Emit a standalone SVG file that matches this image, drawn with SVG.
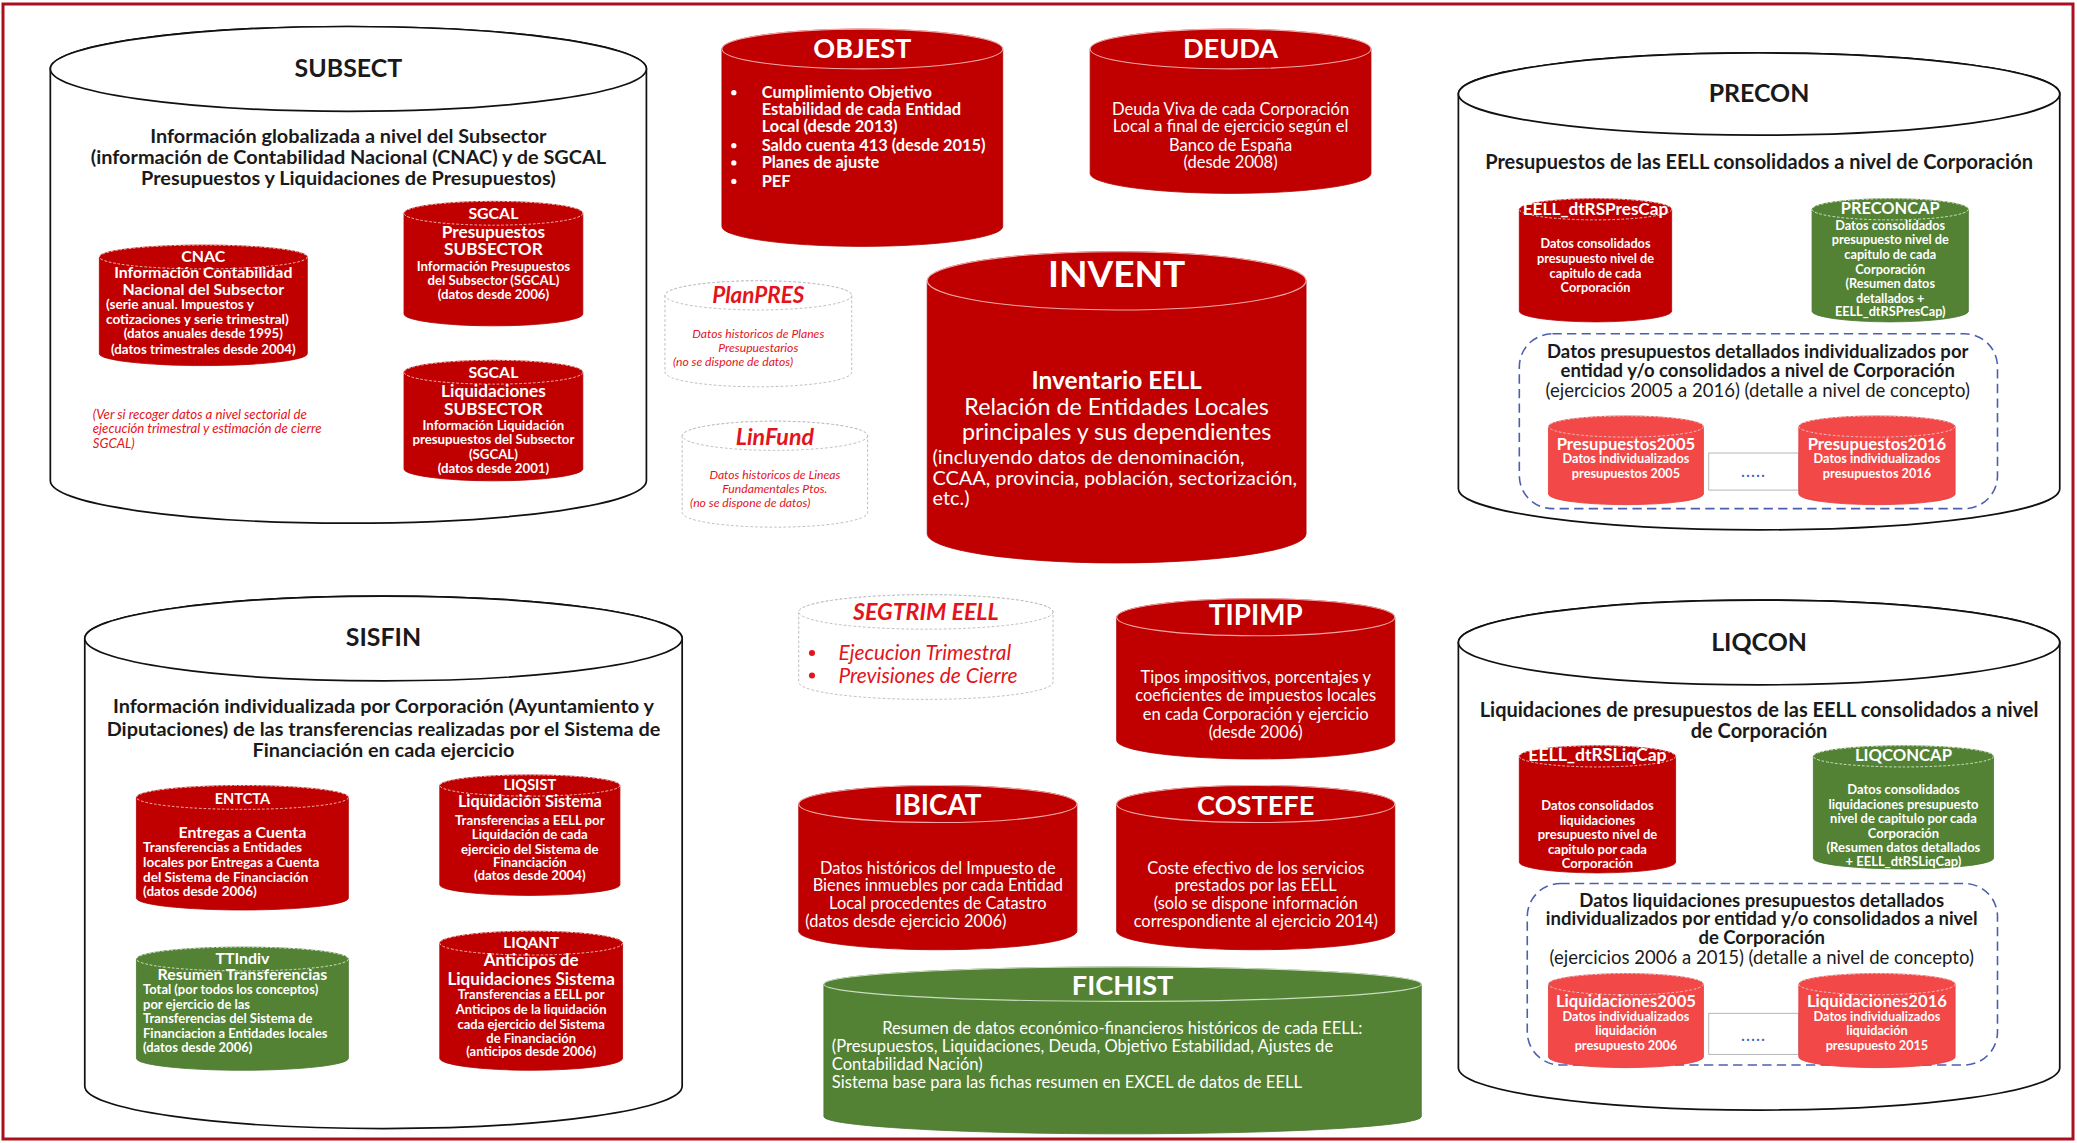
<svg xmlns="http://www.w3.org/2000/svg" width="2077" height="1143" viewBox="0 0 2077 1143">
<style>
text{font-family:Lato,"Open Sans","Liberation Sans",sans-serif}
.c{text-anchor:middle}
.b{font-weight:700}
.i{font-style:italic}
.w{fill:#fff}
.k{fill:#1a1a1a}
.r{fill:#e3141b}
.big{fill:#fff;stroke:#111;stroke-width:1.3}
.red{fill:#c00000;stroke:#b00000;stroke-width:0.6}
.grn{fill:#548235;stroke:#4a7530;stroke-width:0.6}
.lr{fill:#f24848;stroke:#e23a3a;stroke-width:0.6}
.rimS{fill:none;stroke:#f4c4c4;stroke-width:0.7;stroke-dasharray:2 1.4}
.rimG{fill:none;stroke:#d6e8cc;stroke-width:0.7;stroke-dasharray:2 1.4}
.rimB{fill:none;stroke:#f0a8a8;stroke-width:0.8}
.rimBG{fill:none;stroke:#c9ddbf;stroke-width:0.8}
.dsh{fill:#fff;stroke:#b8b8b8;stroke-width:0.7;stroke-dasharray:2 1.6}
.blue{fill:none;stroke:#4c5fae;stroke-width:1.2;stroke-dasharray:7 4}
.dots{fill:#fff;stroke:#b0b0b0;stroke-width:0.7}
.dt{fill:#3a62c8;font-weight:700;letter-spacing:1.2px}
</style>
<rect x="3" y="4" width="2070" height="1135" fill="#fff" stroke="#a8101e" stroke-width="3"/>
<g id="connectors"/>
<g transform="scale(1.3246)">

<!-- SUBSECT -->
<g id="SUBSECT">
<path class="big" d="M38,52 V363 A225,32 0 0 0 488,363 V52 A225,32 0 0 0 38,52 Z"/>
<ellipse class="big" cx="263" cy="52" rx="225" ry="32"/>
<text class="c k b" x="263" y="58" font-size="18.8">SUBSECT</text>
<text class="c k b" x="263" font-size="15"><tspan x="263" y="108">Información globalizada a nivel del Subsector</tspan><tspan x="263" y="123.5">(información de Contabilidad Nacional (CNAC) y de SGCAL</tspan><tspan x="263" y="139.5">Presupuestos y Liquidaciones de Presupuestos)</tspan></text>
<text class="r i" x="70" font-size="10"><tspan x="70" y="316">(Ver si recoger datos a nivel sectorial de</tspan><tspan x="70" y="327">ejecución trimestral y estimación de cierre</tspan><tspan x="70" y="338">SGCAL)</tspan></text>
</g>
<g id="CNAC">
<path class="red" d="M75,194 V267 A78.5,9 0 0 0 232,267 V194 A78.5,9 0 0 0 75,194 Z"/>
<ellipse class="rimS" cx="153.5" cy="194" rx="78.5" ry="9"/>
<text class="c w b" x="153.5" y="198" font-size="12">CNAC</text>
<text class="c w b" x="153.5" font-size="12"><tspan x="153.5" y="210">Información Contabilidad</tspan><tspan x="153.5" y="222.5">Nacional del Subsector</tspan></text>
<text class="w b" font-size="10.3"><tspan x="80" y="233.5">(serie anual. Impuestos y</tspan><tspan x="80" y="244.5">cotizaciones y serie trimestral)</tspan></text>
<text class="c w b" font-size="10"><tspan x="153.5" y="255.5">(datos anuales desde 1995)</tspan><tspan x="153.5" y="267">(datos trimestrales desde 2004)</tspan></text>
</g>
<g id="SGCAL_PRES">
<path class="red" d="M305,161 V237 A67.5,9 0 0 0 440,237 V161 A67.5,9 0 0 0 305,161 Z"/>
<ellipse class="rimS" cx="372.5" cy="161" rx="67.5" ry="9"/>
<text class="c w b" x="372.5" y="165" font-size="12">SGCAL</text>
<text class="c w b" font-size="13"><tspan x="372.5" y="179.5">Presupuestos</tspan><tspan x="372.5" y="192.5">SUBSECTOR</tspan></text>
<text class="c w b" font-size="10"><tspan x="372.5" y="204.5">Información Presupuestos</tspan><tspan x="372.5" y="215.5">del Subsector (SGCAL)</tspan><tspan x="372.5" y="226">(datos desde 2006)</tspan></text>
</g>
<g id="SGCAL_LIQ">
<path class="red" d="M305,281 V354 A67.5,9 0 0 0 440,354 V281 A67.5,9 0 0 0 305,281 Z"/>
<ellipse class="rimS" cx="372.5" cy="281" rx="67.5" ry="9"/>
<text class="c w b" x="372.5" y="285" font-size="12">SGCAL</text>
<text class="c w b" font-size="13"><tspan x="372.5" y="299.5">Liquidaciones</tspan><tspan x="372.5" y="313.5">SUBSECTOR</tspan></text>
<text class="c w b" font-size="10"><tspan x="372.5" y="324.5">Información Liquidación</tspan><tspan x="372.5" y="335.5">presupuestos del Subsector</tspan><tspan x="372.5" y="346.5">(SGCAL)</tspan><tspan x="372.5" y="357">(datos desde 2001)</tspan></text>
</g>

<!-- OBJEST -->
<g id="OBJEST">
<path class="red" d="M545,37 V171 A106,15 0 0 0 757,171 V37 A106,15 0 0 0 545,37 Z"/>
<ellipse class="rimB" cx="651" cy="37" rx="106" ry="15"/>
<text class="c w b" x="651" y="44" font-size="20.5">OBJEST</text>
<g fill="#fff"><circle cx="554" cy="70" r="2"/><circle cx="554" cy="110" r="2"/><circle cx="554" cy="123" r="2"/><circle cx="554" cy="137" r="2"/></g>
<text class="w b" font-size="12.4"><tspan x="575" y="74">Cumplimiento Objetivo</tspan><tspan x="575" y="87">Estabilidad de cada Entidad</tspan><tspan x="575" y="100">Local (desde 2013)</tspan><tspan x="575" y="114">Saldo cuenta 413 (desde 2015)</tspan><tspan x="575" y="127">Planes de ajuste</tspan><tspan x="575" y="141">PEF</tspan></text>
</g>
<g id="DEUDA">
<path class="red" d="M823,37 V131 A106,15 0 0 0 1035,131 V37 A106,15 0 0 0 823,37 Z"/>
<ellipse class="rimB" cx="929" cy="37" rx="106" ry="15"/>
<text class="c w b" x="929" y="44" font-size="20.5">DEUDA</text>
<text class="c w" font-size="12.5"><tspan x="929" y="87">Deuda Viva de cada Corporación</tspan><tspan x="929" y="100">Local a final de ejercicio según el</tspan><tspan x="929" y="114">Banco de España</tspan><tspan x="929" y="127">(desde 2008)</tspan></text>
</g>

<!-- PlanPRES / LinFund -->
<g id="PlanPRES">
<path class="dsh" d="M502,223 V281 A70.5,11 0 0 0 643,281 V223 A70.5,11 0 0 0 502,223 Z"/>
<ellipse class="dsh" cx="572.5" cy="223" rx="70.5" ry="11"/>
<text class="c r b i" x="572.5" y="229" font-size="17">PlanPRES</text>
<text class="r i" font-size="9.2"><tspan class="c" x="572.5" y="255.5">Datos historicos de Planes</tspan><tspan class="c" x="572.5" y="266">Presupuestarios</tspan><tspan x="508" y="276.5">(no se dispone de datos)</tspan></text>
</g>
<g id="LinFund">
<path class="dsh" d="M515,329 V387 A70,11 0 0 0 655,387 V329 A70,11 0 0 0 515,329 Z"/>
<ellipse class="dsh" cx="585" cy="329" rx="70" ry="11"/>
<text class="c r b i" x="585" y="336" font-size="17.5">LinFund</text>
<text class="r i" font-size="9.2"><tspan class="c" x="585" y="361.5">Datos historicos de Lineas</tspan><tspan class="c" x="585" y="372">Fundamentales Ptos.</tspan><tspan x="521" y="382.5">(no se dispone de datos)</tspan></text>
</g>

<!-- INVENT -->
<g id="INVENT">
<path class="red" d="M700,212 V403 A143,22 0 0 0 986,403 V212 A143,22 0 0 0 700,212 Z"/>
<ellipse class="rimB" cx="843" cy="212" rx="143" ry="22"/>
<text class="c w b" x="843" y="217" font-size="28">INVENT</text>
<text class="c w b" x="843" y="294" font-size="18.5">Inventario EELL</text>
<text class="c w" font-size="17.6"><tspan x="843" y="313.5">Relación de Entidades Locales</tspan><tspan x="843" y="332.5">principales y sus dependientes</tspan></text>
<text class="w" font-size="15"><tspan x="704" y="350.5">(incluyendo datos de denominación,</tspan><tspan x="704" y="366">CCAA, provincia, población, sectorización,</tspan><tspan x="704" y="381.5">etc.)</tspan></text>
</g>

<!-- PRECON -->
<g id="PRECON">
<path class="big" d="M1101,71 V369 A227,31 0 0 0 1555,369 V71 A227,31 0 0 0 1101,71 Z"/>
<ellipse class="big" cx="1328" cy="71" rx="227" ry="31"/>
<text class="c k b" x="1328" y="77" font-size="18.8">PRECON</text>
<text class="c k b" x="1328" y="127.5" font-size="15.1">Presupuestos de las EELL consolidados a nivel de Corporación</text>
<rect class="blue" x="1147" y="252" width="361" height="132" rx="25"/>
<text class="c k b" font-size="14"><tspan x="1327" y="270.5">Datos presupuestos detallados individualizados por</tspan><tspan x="1327" y="284.5">entidad y/o consolidados a nivel de Corporación</tspan></text>
<text class="c k" x="1327" y="299.5" font-size="14">(ejercicios 2005 a 2016) (detalle a nivel de concepto)</text>
<rect class="dots" x="1290" y="342" width="68" height="28"/>
<text class="c dt" x="1324" y="360" font-size="11">.....</text>
</g>
<g id="EELL_dtRSPresCap">
<path class="red" d="M1147,158 V235 A57.5,8 0 0 0 1262,235 V158 A57.5,8 0 0 0 1147,158 Z"/>
<ellipse class="rimS" cx="1204.5" cy="158" rx="57.5" ry="8"/>
<text class="c w b" x="1204.5" y="162.5" font-size="13">EELL_dtRSPresCap</text>
<text class="c w b" font-size="9.6"><tspan x="1204.5" y="187.5">Datos consolidados</tspan><tspan x="1204.5" y="198.5">presupuesto nivel de</tspan><tspan x="1204.5" y="209.5">capitulo de cada</tspan><tspan x="1204.5" y="220.5">Corporación</tspan></text>
</g>
<g id="PRECONCAP">
<path class="grn" d="M1368,158 V235 A59,8 0 0 0 1486,235 V158 A59,8 0 0 0 1368,158 Z"/>
<ellipse class="rimG" cx="1427" cy="158" rx="59" ry="8"/>
<text class="c w b" x="1427" y="161.5" font-size="12.4">PRECONCAP</text>
<text class="c w b" font-size="9.6"><tspan x="1427" y="173.5">Datos consolidados</tspan><tspan x="1427" y="184.5">presupuesto nivel de</tspan><tspan x="1427" y="195.5">capitulo de cada</tspan><tspan x="1427" y="206.5">Corporación</tspan><tspan x="1427" y="217.5">(Resumen datos</tspan><tspan x="1427" y="228.5">detallados +</tspan><tspan x="1427" y="238.5">EELL_dtRSPresCap)</tspan></text>
</g>
<g id="Presupuestos2005">
<path class="lr" d="M1169,322 V373 A58.5,8 0 0 0 1286,373 V322 A58.5,8 0 0 0 1169,322 Z"/>
<ellipse class="rimS" cx="1227.5" cy="322" rx="58.5" ry="8"/>
<text class="c w b" x="1227.5" y="339.5" font-size="12.6">Presupuestos2005</text>
<text class="c w b" font-size="9.6"><tspan x="1227.5" y="349.5">Datos individualizados</tspan><tspan x="1227.5" y="360.5">presupuestos 2005</tspan></text>
</g>
<g id="Presupuestos2016">
<path class="lr" d="M1358,322 V373 A59,8 0 0 0 1476,373 V322 A59,8 0 0 0 1358,322 Z"/>
<ellipse class="rimS" cx="1417" cy="322" rx="59" ry="8"/>
<text class="c w b" x="1417" y="339.5" font-size="12.6">Presupuestos2016</text>
<text class="c w b" font-size="9.6"><tspan x="1417" y="349.5">Datos individualizados</tspan><tspan x="1417" y="360.5">presupuestos 2016</tspan></text>
</g>

<!-- SISFIN -->
<g id="SISFIN">
<path class="big" d="M64,482 V820 A225.5,32 0 0 0 515,820 V482 A225.5,32 0 0 0 64,482 Z"/>
<ellipse class="big" cx="289.5" cy="482" rx="225.5" ry="32"/>
<text class="c k b" x="289.5" y="487.5" font-size="18.8">SISFIN</text>
<text class="c k b" font-size="15"><tspan x="289.5" y="538.5">Información individualizada por Corporación (Ayuntamiento y</tspan><tspan x="289.5" y="555.5">Diputaciones) de las transferencias realizadas por el Sistema de</tspan><tspan x="289.5" y="571.5">Financiación en cada ejercicio</tspan></text>
</g>
<g id="ENTCTA">
<path class="red" d="M103,602 V678 A80,9 0 0 0 263,678 V602 A80,9 0 0 0 103,602 Z"/>
<ellipse class="rimS" cx="183" cy="602" rx="80" ry="9"/>
<text class="c w b" x="183" y="607" font-size="11">ENTCTA</text>
<text class="c w b" x="183" y="632.5" font-size="12">Entregas a Cuenta</text>
<text class="w b" font-size="10.2"><tspan x="108" y="643.5">Transferencias a Entidades</tspan><tspan x="108" y="654.5">locales por Entregas a Cuenta</tspan><tspan x="108" y="665.5">del Sistema de Financiación</tspan><tspan x="108" y="676.5">(datos desde 2006)</tspan></text>
</g>
<g id="LIQSIST">
<path class="red" d="M332,593 V668 A68,8 0 0 0 468,668 V593 A68,8 0 0 0 332,593 Z"/>
<ellipse class="rimS" cx="400" cy="593" rx="68" ry="8"/>
<text class="c w b" x="400" y="596.5" font-size="11">LIQSIST</text>
<text class="c w b" x="400" y="609.5" font-size="12.3">Liquidación Sistema</text>
<text class="c w b" font-size="10"><tspan x="400" y="622.5">Transferencias a EELL por</tspan><tspan x="400" y="633.5">Liquidación de cada</tspan><tspan x="400" y="644.5">ejercicio del Sistema de</tspan><tspan x="400" y="654.5">Financiación</tspan><tspan x="400" y="664.5">(datos desde 2004)</tspan></text>
</g>
<g id="TTIndiv">
<path class="grn" d="M103,724 V799 A80,9 0 0 0 263,799 V724 A80,9 0 0 0 103,724 Z"/>
<ellipse class="rimG" cx="183" cy="724" rx="80" ry="9"/>
<text class="c w b" x="183" y="727.5" font-size="12">TTIndiv</text>
<text class="c w b" x="183" y="739.5" font-size="12">Resumen Transferencias</text>
<text class="w b" font-size="9.8"><tspan x="108" y="750.5">Total (por todos los conceptos)</tspan><tspan x="108" y="761.5">por ejercicio de las</tspan><tspan x="108" y="772.5">Transferencias del Sistema de</tspan><tspan x="108" y="783.5">Financiacion a Entidades locales</tspan><tspan x="108" y="794.5">(datos desde 2006)</tspan></text>
</g>
<g id="LIQANT">
<path class="red" d="M332,712 V799 A69,9 0 0 0 470,799 V712 A69,9 0 0 0 332,712 Z"/>
<ellipse class="rimS" cx="401" cy="712" rx="69" ry="9"/>
<text class="c w b" x="401" y="716" font-size="11.5">LIQANT</text>
<text class="c w b" font-size="12.9"><tspan x="401" y="729.5">Anticipos de</tspan><tspan x="401" y="743.5">Liquidaciones Sistema</tspan></text>
<text class="c w b" font-size="9.8"><tspan x="401" y="754.5">Transferencias a EELL por</tspan><tspan x="401" y="765.5">Anticipos de la liquidación</tspan><tspan x="401" y="776.5">cada ejercicio del Sistema</tspan><tspan x="401" y="787.5">de Financiación</tspan><tspan x="401" y="797.5">(anticipos desde  2006)</tspan></text>
</g>

<!-- SEGTRIM -->
<g id="SEGTRIM">
<path class="dsh" d="M603,462 V515 A96,13 0 0 0 795,515 V462 A96,13 0 0 0 603,462 Z"/>
<ellipse class="dsh" cx="699" cy="462" rx="96" ry="13"/>
<text class="c r b i" x="699" y="468" font-size="17.5">SEGTRIM EELL</text>
<g fill="#e3141b"><circle cx="613" cy="493" r="2.3"/><circle cx="613" cy="510" r="2.3"/></g>
<text class="r i" font-size="15.8"><tspan x="633" y="498.5">Ejecucion Trimestral</tspan><tspan x="633" y="515.5">Previsiones de Cierre</tspan></text>
</g>
<g id="TIPIMP">
<path class="red" d="M843,466 V559 A105,14 0 0 0 1053,559 V466 A105,14 0 0 0 843,466 Z"/>
<ellipse class="rimB" cx="948" cy="466" rx="105" ry="14"/>
<text class="c w b" x="948" y="472" font-size="21">TIPIMP</text>
<text class="c w" font-size="12.5"><tspan x="948" y="515.5">Tipos impositivos, porcentajes y</tspan><tspan x="948" y="529.5">coeficientes de impuestos locales</tspan><tspan x="948" y="543.5">en cada Corporación y ejercicio</tspan><tspan x="948" y="557.5">(desde 2006)</tspan></text>
</g>
<g id="IBICAT">
<path class="red" d="M603,607 V703 A105,14 0 0 0 813,703 V607 A105,14 0 0 0 603,607 Z"/>
<ellipse class="rimB" cx="708" cy="607" rx="105" ry="14"/>
<text class="c w b" x="708" y="615" font-size="21">IBICAT</text>
<text class="w" font-size="12.4"><tspan class="c" x="708" y="659.5">Datos históricos del Impuesto de</tspan><tspan class="c" x="708" y="672.5">Bienes inmuebles por cada Entidad</tspan><tspan class="c" x="708" y="686.5">Local procedentes de Catastro</tspan><tspan x="608" y="699.5">(datos desde ejercicio 2006)</tspan></text>
</g>
<g id="COSTEFE">
<path class="red" d="M843,607 V703 A105,14 0 0 0 1053,703 V607 A105,14 0 0 0 843,607 Z"/>
<ellipse class="rimB" cx="948" cy="607" rx="105" ry="14"/>
<text class="c w b" x="948" y="615" font-size="20.5">COSTEFE</text>
<text class="c w" font-size="12.4"><tspan x="948" y="659.5">Coste efectivo de los servicios</tspan><tspan x="948" y="672.5">prestados por las EELL</tspan><tspan x="948" y="686.5">(solo se dispone información</tspan><tspan x="948" y="699.5">correspondiente al ejercicio 2014)</tspan></text>
</g>
<g id="FICHIST">
<path class="grn" d="M622,743 V843 A225.5,13 0 0 0 1073,843 V743 A225.5,13 0 0 0 622,743 Z"/>
<ellipse class="rimBG" cx="847.5" cy="743" rx="225.5" ry="13"/>
<text class="c w b" x="847.5" y="751" font-size="20.5">FICHIST</text>
<text class="w" font-size="12.5"><tspan x="666" y="780.5">Resumen de datos económico-financieros históricos de cada EELL:</tspan><tspan x="628" y="794.5">(Presupuestos, Liquidaciones, Deuda, Objetivo Estabilidad, Ajustes de</tspan><tspan x="628" y="807.5">Contabilidad Nación)</tspan><tspan x="628" y="821.5">Sistema base para las fichas resumen en EXCEL de datos de EELL</tspan></text>
</g>

<!-- LIQCON -->
<g id="LIQCON">
<path class="big" d="M1101,485 V806 A227,32 0 0 0 1555,806 V485 A227,32 0 0 0 1101,485 Z"/>
<ellipse class="big" cx="1328" cy="485" rx="227" ry="32"/>
<text class="c k b" x="1328" y="491.5" font-size="18.8">LIQCON</text>
<text class="c k b" font-size="15.1"><tspan x="1328" y="541.5">Liquidaciones de presupuestos de las EELL consolidados a nivel</tspan><tspan x="1328" y="557.5">de Corporación</tspan></text>
<rect class="blue" x="1153" y="667" width="355" height="137" rx="25"/>
<text class="c k b" font-size="14"><tspan x="1330" y="684.5">Datos liquidaciones presupuestos detallados</tspan><tspan x="1330" y="698.5">individualizados por entidad y/o consolidados a nivel</tspan><tspan x="1330" y="712.5">de Corporación</tspan></text>
<text class="c k" x="1330" y="727.5" font-size="14">(ejercicios 2006 a 2015) (detalle a nivel de concepto)</text>
<rect class="dots" x="1290" y="765" width="68" height="31"/>
<text class="c dt" x="1324" y="786" font-size="11">.....</text>
</g>
<g id="EELL_dtRSLiqCap">
<path class="red" d="M1147,571 V651 A59,8 0 0 0 1265,651 V571 A59,8 0 0 0 1147,571 Z"/>
<ellipse class="rimS" cx="1206" cy="571" rx="59" ry="8"/>
<text class="c w b" x="1206" y="574.5" font-size="13.3">EELL_dtRSLiqCap</text>
<text class="c w b" font-size="9.8"><tspan x="1206" y="611.5">Datos consolidados</tspan><tspan x="1206" y="622.5">liquidaciones</tspan><tspan x="1206" y="633.5">presupuesto nivel de</tspan><tspan x="1206" y="644.5">capitulo por cada</tspan><tspan x="1206" y="655.5">Corporación</tspan></text>
</g>
<g id="LIQCONCAP">
<path class="grn" d="M1369,571 V648 A68,8 0 0 0 1505,648 V571 A68,8 0 0 0 1369,571 Z"/>
<ellipse class="rimG" cx="1437" cy="571" rx="68" ry="8"/>
<text class="c w b" x="1437" y="574.5" font-size="12.6">LIQCONCAP</text>
<text class="c w b" font-size="9.8"><tspan x="1437" y="599.5">Datos consolidados</tspan><tspan x="1437" y="610.5">liquidaciones presupuesto</tspan><tspan x="1437" y="621.5">nivel de capitulo por cada</tspan><tspan x="1437" y="632.5">Corporación</tspan><tspan x="1437" y="643.5">(Resumen datos detallados</tspan><tspan x="1437" y="653.5">+ EELL_dtRSLiqCap)</tspan></text>
</g>
<g id="Liquidaciones2005">
<path class="lr" d="M1169,743 V798 A58.5,8 0 0 0 1286,798 V743 A58.5,8 0 0 0 1169,743 Z"/>
<ellipse class="rimS" cx="1227.5" cy="743" rx="58.5" ry="8"/>
<text class="c w b" x="1227.5" y="760.5" font-size="12.6">Liquidaciones2005</text>
<text class="c w b" font-size="9.6"><tspan x="1227.5" y="770.5">Datos individualizados</tspan><tspan x="1227.5" y="781.5">liquidación</tspan><tspan x="1227.5" y="792.5">presupuesto 2006</tspan></text>
</g>
<g id="Liquidaciones2016">
<path class="lr" d="M1358,743 V798 A59,8 0 0 0 1476,798 V743 A59,8 0 0 0 1358,743 Z"/>
<ellipse class="rimS" cx="1417" cy="743" rx="59" ry="8"/>
<text class="c w b" x="1417" y="760.5" font-size="12.6">Liquidaciones2016</text>
<text class="c w b" font-size="9.6"><tspan x="1417" y="770.5">Datos individualizados</tspan><tspan x="1417" y="781.5">liquidación</tspan><tspan x="1417" y="792.5">presupuesto 2015</tspan></text>
</g>
</g>
</svg>
